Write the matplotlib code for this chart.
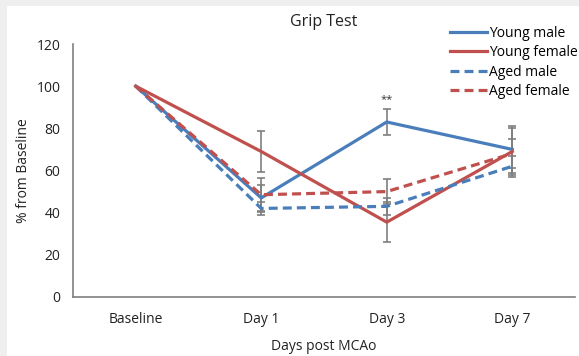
import numpy as np
import matplotlib.pyplot as plt
from matplotlib.patches import Rectangle

plt.rcParams['font.family'] = ['Open Sans', 'DejaVu Sans']

categories = ['Baseline', 'Day 1', 'Day 3', 'Day 7']
young_male = [100, 47, 83, 70]
young_female = [100, 69, 35.5, 69]
aged_male = [100, 42, 43, 62]
aged_female = [100, 48.5, 50, 68]
young_male_err = [0, 6, 6.2, 11]
young_female_err = [0, 9.5, 9.5, 11]
aged_male_err = [0, 3, 4, 5]
aged_female_err = [0, 8, 6, 7]

blue = '#4a7ebb'
red = '#c0504d'
dash = (0, (2.8, 1.6))
series = [
    ('Young male', young_male, young_male_err, blue, '-'),
    ('Young female', young_female, young_female_err, red, '-'),
    ('Aged male', aged_male, aged_male_err, blue, dash),
    ('Aged female', aged_female, aged_female_err, red, dash),
]

fig = plt.figure(figsize=(5.79, 3.56), dpi=100, facecolor='#efefef')
fig.patches.append(Rectangle((7 / 579, 0), 1, (356 - 6) / 356,
                             transform=fig.transFigure, facecolor='white',
                             edgecolor='none', zorder=-1))
ax = fig.add_axes([73 / 579, 59 / 356, 502 / 579, 253 / 356])
ax.set_facecolor('none')

x = np.arange(len(categories))
handles = []
for name, vals, err, color, ls in series:
    line, = ax.plot(x, vals, color=color, lw=2.3, ls=ls, label=name, zorder=3)
    handles.append(line)
    ax.errorbar(x[1:], vals[1:], yerr=err[1:], fmt='none', ecolor='#7f7f7f',
                elinewidth=1.2, capsize=3, capthick=1.2, zorder=2)

ax.text(2, 93.5, '**', ha='center', va='center', fontsize=8, color='#333333')

ax.set_xlim(-0.5, 3.5)
ax.set_ylim(0, 120)
ax.set_yticks(np.arange(0, 121, 20))
ax.set_xticks(x)
ax.set_xticklabels(categories)
ax.tick_params(length=0, labelsize=10, colors='#222222')
ax.tick_params(axis='y', pad=9)
ax.tick_params(axis='x', pad=10.5)
for s in ['top', 'right']:
    ax.spines[s].set_visible(False)
for s in ['left', 'bottom']:
    ax.spines[s].set_color('#7f7f7f')
    ax.spines[s].set_linewidth(1.2)

ax.set_xlabel('Days post MCAo', fontsize=10, labelpad=9, color='#222222')
ax.set_ylabel('% from Baseline', fontsize=10, labelpad=4, color='#222222')
ax.set_title('Grip Test', fontsize=11.5, pad=13, color='#222222')

fig.legend(handles=handles, loc='upper left', bbox_to_anchor=(440 / 579, 1 - 16 / 356),
           frameon=False, fontsize=10, handlelength=2.7, handletextpad=0.15,
           labelspacing=0.32, borderpad=0.2)

fig.savefig('out.png', dpi=100, facecolor=fig.get_facecolor())
